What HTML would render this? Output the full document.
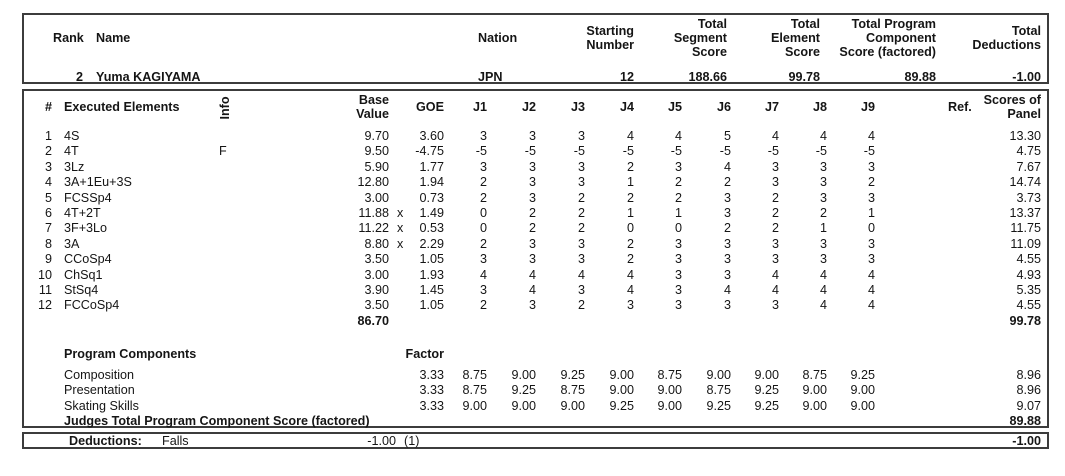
<!DOCTYPE html>
<html>
<head>
<meta charset="utf-8">
<style>
html,body{margin:0;padding:0;background:#fff;}
#c{position:relative;width:1065px;height:476px;overflow:hidden;background:#fff;font-family:"Liberation Sans",Arial,sans-serif;color:#151515;}
.t{position:absolute;white-space:nowrap;font-size:12.6px;line-height:14px;}
.r{text-align:right;}
.b{font-weight:bold;}
.box{position:absolute;box-sizing:border-box;border:2px solid #3c3c3c;}
.row{position:absolute;left:0;width:1065px;height:14px;}
</style>
</head>
<body>
<div id="c">
<div class="box" style="left:22px;top:13px;width:1027px;height:71px;"></div>
<div class="box" style="left:22px;top:89px;width:1027px;height:339px;"></div>
<div class="box" style="left:22px;top:432px;width:1027px;height:17px;"></div>

<!-- Box 1 header -->
<div class="t b" style="left:53px;top:31px;">Rank</div>
<div class="t b" style="left:96px;top:31px;">Name</div>
<div class="t b" style="left:478px;top:31px;">Nation</div>
<div class="t b r" style="right:431px;top:24px;">Starting<br>Number</div>
<div class="t b r" style="right:338px;top:17px;">Total<br>Segment<br>Score</div>
<div class="t b r" style="right:245px;top:17px;">Total<br>Element<br>Score</div>
<div class="t b r" style="right:129px;top:17px;">Total Program<br>Component<br>Score (factored)</div>
<div class="t b r" style="right:24px;top:24px;">Total<br>Deductions</div>

<div class="t b r" style="right:982px;top:70px;">2</div>
<div class="t b" style="left:96px;top:70px;">Yuma KAGIYAMA</div>
<div class="t b" style="left:478px;top:70px;">JPN</div>
<div class="t b r" style="right:431px;top:70px;">12</div>
<div class="t b r" style="right:338px;top:70px;">188.66</div>
<div class="t b r" style="right:245px;top:70px;">99.78</div>
<div class="t b r" style="right:129px;top:70px;">89.88</div>
<div class="t b r" style="right:24px;top:70px;">-1.00</div>

<!-- Box 2 header -->
<div class="t b" style="left:45px;top:100px;">#</div>
<div class="t b" style="left:64px;top:100px;">Executed Elements</div>
<div class="t b" style="left:211px;top:101px;width:28px;text-align:center;transform:rotate(-90deg);">Info</div>
<div class="t b r" style="right:676px;top:94px;line-height:13.5px;">Base<br>Value</div>
<div class="t b r" style="right:621px;top:100px;">GOE</div>
<div class="t b r" style="right:578px;top:100px;">J1</div>
<div class="t b r" style="right:529px;top:100px;">J2</div>
<div class="t b r" style="right:480px;top:100px;">J3</div>
<div class="t b r" style="right:431px;top:100px;">J4</div>
<div class="t b r" style="right:383px;top:100px;">J5</div>
<div class="t b r" style="right:334px;top:100px;">J6</div>
<div class="t b r" style="right:286px;top:100px;">J7</div>
<div class="t b r" style="right:238px;top:100px;">J8</div>
<div class="t b r" style="right:190px;top:100px;">J9</div>
<div class="t b" style="left:948px;top:100px;">Ref.</div>
<div class="t b r" style="right:24px;top:94px;line-height:13.5px;">Scores of<br>Panel</div>

<!-- Element rows -->
<div class="row" style="top:129px;">
<div class="t r" style="right:1013px;">1</div><div class="t" style="left:64px;">4S</div>
<div class="t r" style="right:676px;">9.70</div><div class="t r" style="right:621px;">3.60</div>
<div class="t r" style="right:578px;">3</div><div class="t r" style="right:529px;">3</div><div class="t r" style="right:480px;">3</div><div class="t r" style="right:431px;">4</div><div class="t r" style="right:383px;">4</div><div class="t r" style="right:334px;">5</div><div class="t r" style="right:286px;">4</div><div class="t r" style="right:238px;">4</div><div class="t r" style="right:190px;">4</div>
<div class="t r" style="right:24px;">13.30</div>
</div>
<div class="row" style="top:144.4px;">
<div class="t r" style="right:1013px;">2</div><div class="t" style="left:64px;">4T</div><div class="t" style="left:219px;">F</div>
<div class="t r" style="right:676px;">9.50</div><div class="t r" style="right:621px;">-4.75</div>
<div class="t r" style="right:578px;">-5</div><div class="t r" style="right:529px;">-5</div><div class="t r" style="right:480px;">-5</div><div class="t r" style="right:431px;">-5</div><div class="t r" style="right:383px;">-5</div><div class="t r" style="right:334px;">-5</div><div class="t r" style="right:286px;">-5</div><div class="t r" style="right:238px;">-5</div><div class="t r" style="right:190px;">-5</div>
<div class="t r" style="right:24px;">4.75</div>
</div>
<div class="row" style="top:159.8px;">
<div class="t r" style="right:1013px;">3</div><div class="t" style="left:64px;">3Lz</div>
<div class="t r" style="right:676px;">5.90</div><div class="t r" style="right:621px;">1.77</div>
<div class="t r" style="right:578px;">3</div><div class="t r" style="right:529px;">3</div><div class="t r" style="right:480px;">3</div><div class="t r" style="right:431px;">2</div><div class="t r" style="right:383px;">3</div><div class="t r" style="right:334px;">4</div><div class="t r" style="right:286px;">3</div><div class="t r" style="right:238px;">3</div><div class="t r" style="right:190px;">3</div>
<div class="t r" style="right:24px;">7.67</div>
</div>
<div class="row" style="top:175.2px;">
<div class="t r" style="right:1013px;">4</div><div class="t" style="left:64px;">3A+1Eu+3S</div>
<div class="t r" style="right:676px;">12.80</div><div class="t r" style="right:621px;">1.94</div>
<div class="t r" style="right:578px;">2</div><div class="t r" style="right:529px;">3</div><div class="t r" style="right:480px;">3</div><div class="t r" style="right:431px;">1</div><div class="t r" style="right:383px;">2</div><div class="t r" style="right:334px;">2</div><div class="t r" style="right:286px;">3</div><div class="t r" style="right:238px;">3</div><div class="t r" style="right:190px;">2</div>
<div class="t r" style="right:24px;">14.74</div>
</div>
<div class="row" style="top:190.6px;">
<div class="t r" style="right:1013px;">5</div><div class="t" style="left:64px;">FCSSp4</div>
<div class="t r" style="right:676px;">3.00</div><div class="t r" style="right:621px;">0.73</div>
<div class="t r" style="right:578px;">2</div><div class="t r" style="right:529px;">3</div><div class="t r" style="right:480px;">2</div><div class="t r" style="right:431px;">2</div><div class="t r" style="right:383px;">2</div><div class="t r" style="right:334px;">3</div><div class="t r" style="right:286px;">2</div><div class="t r" style="right:238px;">3</div><div class="t r" style="right:190px;">3</div>
<div class="t r" style="right:24px;">3.73</div>
</div>
<div class="row" style="top:206px;">
<div class="t r" style="right:1013px;">6</div><div class="t" style="left:64px;">4T+2T</div>
<div class="t r" style="right:676px;">11.88</div><div class="t" style="left:397px;">x</div><div class="t r" style="right:621px;">1.49</div>
<div class="t r" style="right:578px;">0</div><div class="t r" style="right:529px;">2</div><div class="t r" style="right:480px;">2</div><div class="t r" style="right:431px;">1</div><div class="t r" style="right:383px;">1</div><div class="t r" style="right:334px;">3</div><div class="t r" style="right:286px;">2</div><div class="t r" style="right:238px;">2</div><div class="t r" style="right:190px;">1</div>
<div class="t r" style="right:24px;">13.37</div>
</div>
<div class="row" style="top:221.4px;">
<div class="t r" style="right:1013px;">7</div><div class="t" style="left:64px;">3F+3Lo</div>
<div class="t r" style="right:676px;">11.22</div><div class="t" style="left:397px;">x</div><div class="t r" style="right:621px;">0.53</div>
<div class="t r" style="right:578px;">0</div><div class="t r" style="right:529px;">2</div><div class="t r" style="right:480px;">2</div><div class="t r" style="right:431px;">0</div><div class="t r" style="right:383px;">0</div><div class="t r" style="right:334px;">2</div><div class="t r" style="right:286px;">2</div><div class="t r" style="right:238px;">1</div><div class="t r" style="right:190px;">0</div>
<div class="t r" style="right:24px;">11.75</div>
</div>
<div class="row" style="top:236.8px;">
<div class="t r" style="right:1013px;">8</div><div class="t" style="left:64px;">3A</div>
<div class="t r" style="right:676px;">8.80</div><div class="t" style="left:397px;">x</div><div class="t r" style="right:621px;">2.29</div>
<div class="t r" style="right:578px;">2</div><div class="t r" style="right:529px;">3</div><div class="t r" style="right:480px;">3</div><div class="t r" style="right:431px;">2</div><div class="t r" style="right:383px;">3</div><div class="t r" style="right:334px;">3</div><div class="t r" style="right:286px;">3</div><div class="t r" style="right:238px;">3</div><div class="t r" style="right:190px;">3</div>
<div class="t r" style="right:24px;">11.09</div>
</div>
<div class="row" style="top:252.2px;">
<div class="t r" style="right:1013px;">9</div><div class="t" style="left:64px;">CCoSp4</div>
<div class="t r" style="right:676px;">3.50</div><div class="t r" style="right:621px;">1.05</div>
<div class="t r" style="right:578px;">3</div><div class="t r" style="right:529px;">3</div><div class="t r" style="right:480px;">3</div><div class="t r" style="right:431px;">2</div><div class="t r" style="right:383px;">3</div><div class="t r" style="right:334px;">3</div><div class="t r" style="right:286px;">3</div><div class="t r" style="right:238px;">3</div><div class="t r" style="right:190px;">3</div>
<div class="t r" style="right:24px;">4.55</div>
</div>
<div class="row" style="top:267.6px;">
<div class="t r" style="right:1013px;">10</div><div class="t" style="left:64px;">ChSq1</div>
<div class="t r" style="right:676px;">3.00</div><div class="t r" style="right:621px;">1.93</div>
<div class="t r" style="right:578px;">4</div><div class="t r" style="right:529px;">4</div><div class="t r" style="right:480px;">4</div><div class="t r" style="right:431px;">4</div><div class="t r" style="right:383px;">3</div><div class="t r" style="right:334px;">3</div><div class="t r" style="right:286px;">4</div><div class="t r" style="right:238px;">4</div><div class="t r" style="right:190px;">4</div>
<div class="t r" style="right:24px;">4.93</div>
</div>
<div class="row" style="top:283px;">
<div class="t r" style="right:1013px;">11</div><div class="t" style="left:64px;">StSq4</div>
<div class="t r" style="right:676px;">3.90</div><div class="t r" style="right:621px;">1.45</div>
<div class="t r" style="right:578px;">3</div><div class="t r" style="right:529px;">4</div><div class="t r" style="right:480px;">3</div><div class="t r" style="right:431px;">4</div><div class="t r" style="right:383px;">3</div><div class="t r" style="right:334px;">4</div><div class="t r" style="right:286px;">4</div><div class="t r" style="right:238px;">4</div><div class="t r" style="right:190px;">4</div>
<div class="t r" style="right:24px;">5.35</div>
</div>
<div class="row" style="top:298.4px;">
<div class="t r" style="right:1013px;">12</div><div class="t" style="left:64px;">FCCoSp4</div>
<div class="t r" style="right:676px;">3.50</div><div class="t r" style="right:621px;">1.05</div>
<div class="t r" style="right:578px;">2</div><div class="t r" style="right:529px;">3</div><div class="t r" style="right:480px;">2</div><div class="t r" style="right:431px;">3</div><div class="t r" style="right:383px;">3</div><div class="t r" style="right:334px;">3</div><div class="t r" style="right:286px;">3</div><div class="t r" style="right:238px;">4</div><div class="t r" style="right:190px;">4</div>
<div class="t r" style="right:24px;">4.55</div>
</div>
<div class="t b r" style="right:676px;top:314px;">86.70</div>
<div class="t b r" style="right:24px;top:314px;">99.78</div>

<!-- Program components -->
<div class="t b" style="left:64px;top:347px;">Program Components</div>
<div class="t b r" style="right:621px;top:347px;">Factor</div>

<div class="row" style="top:368px;">
<div class="t" style="left:64px;">Composition</div>
<div class="t r" style="right:621px;">3.33</div>
<div class="t r" style="right:578px;">8.75</div><div class="t r" style="right:529px;">9.00</div><div class="t r" style="right:480px;">9.25</div><div class="t r" style="right:431px;">9.00</div><div class="t r" style="right:383px;">8.75</div><div class="t r" style="right:334px;">9.00</div><div class="t r" style="right:286px;">9.00</div><div class="t r" style="right:238px;">8.75</div><div class="t r" style="right:190px;">9.25</div>
<div class="t r" style="right:24px;">8.96</div>
</div>
<div class="row" style="top:383.3px;">
<div class="t" style="left:64px;">Presentation</div>
<div class="t r" style="right:621px;">3.33</div>
<div class="t r" style="right:578px;">8.75</div><div class="t r" style="right:529px;">9.25</div><div class="t r" style="right:480px;">8.75</div><div class="t r" style="right:431px;">9.00</div><div class="t r" style="right:383px;">9.00</div><div class="t r" style="right:334px;">8.75</div><div class="t r" style="right:286px;">9.25</div><div class="t r" style="right:238px;">9.00</div><div class="t r" style="right:190px;">9.00</div>
<div class="t r" style="right:24px;">8.96</div>
</div>
<div class="row" style="top:398.6px;">
<div class="t" style="left:64px;">Skating Skills</div>
<div class="t r" style="right:621px;">3.33</div>
<div class="t r" style="right:578px;">9.00</div><div class="t r" style="right:529px;">9.00</div><div class="t r" style="right:480px;">9.00</div><div class="t r" style="right:431px;">9.25</div><div class="t r" style="right:383px;">9.00</div><div class="t r" style="right:334px;">9.25</div><div class="t r" style="right:286px;">9.25</div><div class="t r" style="right:238px;">9.00</div><div class="t r" style="right:190px;">9.00</div>
<div class="t r" style="right:24px;">9.07</div>
</div>
<div class="t b" style="left:64px;top:414px;">Judges Total Program Component Score (factored)</div>
<div class="t b r" style="right:24px;top:414px;">89.88</div>

<!-- Deductions -->
<div class="t b" style="left:69px;top:434px;">Deductions:</div>
<div class="t" style="left:162px;top:434px;">Falls</div>
<div class="t r" style="right:669px;top:434px;">-1.00</div>
<div class="t" style="left:404px;top:434px;">(1)</div>
<div class="t b r" style="right:24px;top:434px;">-1.00</div>
</div>
</body>
</html>
